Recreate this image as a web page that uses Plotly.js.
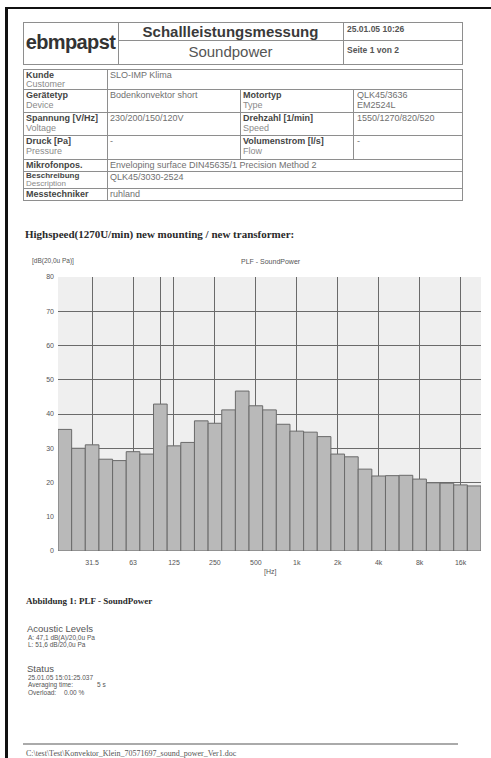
<!DOCTYPE html>
<html>
<head>
<meta charset="utf-8">
<script src="https://cdn.plot.ly/plotly-3.0.1.min.js"></script>
<style>
  html, body { margin:0; padding:0; background:#fff; }
  body { width:491px; height:758px; position:relative; overflow:hidden; font-family:"Liberation Sans", Arial, sans-serif; }
  .abs { position:absolute; white-space:nowrap; }
  .ln { position:absolute; background:#8e8e8e; }
  .lab { font-size:9px; line-height:10px; font-weight:bold; color:#444; }
  .sub { font-size:9px; line-height:10px; color:#8a8a8a; }
  .val { font-size:9px; line-height:10px; color:#707070; }
  .serifb { font-family:"Liberation Serif", "Times New Roman", serif; font-weight:bold; color:#2a2a2a; }
  .small { font-size:6.5px; line-height:7px; color:#555; }
  .mid { font-size:9.5px; color:#555; }
</style>
</head>
<body>
<!-- page frame (scan border) -->
<div class="abs" style="left:5px;top:7px;width:486px;height:2px;background:#111;"></div>
<div class="abs" style="left:5px;top:7px;width:2.5px;height:751px;background:#111;"></div>

<!-- title box -->
<div class="ln" style="left:23px;top:22px;width:439px;height:1px;"></div>
<div class="ln" style="left:23px;top:64px;width:440px;height:1px;"></div>
<div class="ln" style="left:23px;top:22px;width:1px;height:42px;"></div>
<div class="ln" style="left:462px;top:22px;width:1px;height:42px;"></div>
<div class="ln" style="left:118px;top:22px;width:1px;height:42px;"></div>
<div class="ln" style="left:343px;top:22px;width:1px;height:42px;"></div>
<div class="ln" style="left:118px;top:40px;width:344px;height:1px;"></div>
<div class="abs" style="left:23px;top:30px;width:95px;text-align:center;font-size:20px;line-height:24px;font-weight:bold;color:#333;letter-spacing:-0.6px;">ebmpapst</div>
<div class="abs" style="left:118px;top:23px;width:225px;text-align:center;font-size:15px;line-height:17px;font-weight:bold;color:#3a3a3a;">Schallleistungsmessung</div>
<div class="abs" style="left:118px;top:43px;width:225px;text-align:center;font-size:15px;line-height:17px;color:#555;">Soundpower</div>
<div class="abs" style="left:347px;top:24px;font-size:8.5px;line-height:10px;font-weight:bold;color:#555;">25.01.05 10:26</div>
<div class="abs" style="left:347px;top:45px;font-size:8.5px;line-height:10px;font-weight:bold;color:#555;">Seite 1 von 2</div>

<!-- info table -->
<div class="ln" style="left:23px;top:69px;width:440px;height:1px;"></div>
<div class="ln" style="left:23px;top:89px;width:440px;height:1px;"></div>
<div class="ln" style="left:23px;top:112px;width:440px;height:1px;"></div>
<div class="ln" style="left:23px;top:135px;width:440px;height:1px;"></div>
<div class="ln" style="left:23px;top:159px;width:440px;height:1px;"></div>
<div class="ln" style="left:23px;top:171px;width:440px;height:1px;"></div>
<div class="ln" style="left:23px;top:188px;width:440px;height:1px;"></div>
<div class="ln" style="left:23px;top:200px;width:440px;height:1px;"></div>
<div class="ln" style="left:23px;top:69px;width:1px;height:131px;"></div>
<div class="ln" style="left:462px;top:69px;width:1px;height:131px;"></div>
<div class="ln" style="left:107px;top:69px;width:1px;height:131px;"></div>
<div class="ln" style="left:240px;top:89px;width:1px;height:70px;"></div>
<div class="ln" style="left:353px;top:89px;width:1px;height:70px;"></div>

<div class="abs lab" style="left:26px;top:70px;">Kunde</div>
<div class="abs sub" style="left:26px;top:79px;">Customer</div>
<div class="abs val" style="left:110px;top:70px;">SLO-IMP Klima</div>

<div class="abs lab" style="left:26px;top:90px;">Gerätetyp</div>
<div class="abs sub" style="left:26px;top:100px;">Device</div>
<div class="abs val" style="left:110px;top:90px;">Bodenkonvektor short</div>
<div class="abs lab" style="left:243px;top:90px;">Motortyp</div>
<div class="abs sub" style="left:243px;top:100px;">Type</div>
<div class="abs val" style="left:357px;top:90px;">QLK45/3636</div>
<div class="abs val" style="left:357px;top:100px;">EM2524L</div>

<div class="abs lab" style="left:26px;top:113px;">Spannung [V/Hz]</div>
<div class="abs sub" style="left:26px;top:123px;">Voltage</div>
<div class="abs val" style="left:110px;top:113px;">230/200/150/120V</div>
<div class="abs lab" style="left:243px;top:113px;">Drehzahl [1/min]</div>
<div class="abs sub" style="left:243px;top:123px;">Speed</div>
<div class="abs val" style="left:357px;top:113px;">1550/1270/820/520</div>

<div class="abs lab" style="left:26px;top:136px;">Druck [Pa]</div>
<div class="abs sub" style="left:26px;top:146px;">Pressure</div>
<div class="abs val" style="left:110px;top:136px;">-</div>
<div class="abs lab" style="left:243px;top:136px;">Volumenstrom [l/s]</div>
<div class="abs sub" style="left:243px;top:146px;">Flow</div>
<div class="abs val" style="left:357px;top:136px;">-</div>

<div class="abs lab" style="left:26px;top:160px;">Mikrofonpos.</div>
<div class="abs val" style="left:110px;top:160px;">Enveloping surface DIN45635/1 Precision Method 2</div>

<div class="abs lab" style="left:26px;top:171.5px;font-size:8px;line-height:8px;">Beschreibung</div>
<div class="abs sub" style="left:26px;top:180px;font-size:8px;line-height:8px;">Description</div>
<div class="abs val" style="left:110px;top:172px;">QLK45/3030-2524</div>

<div class="abs lab" style="left:26px;top:189px;">Messtechniker</div>
<div class="abs val" style="left:110px;top:189px;">ruhland</div>

<!-- chart heading -->
<div class="abs serifb" style="left:25px;top:228px;font-size:11px;line-height:13px;">Highspeed(1270U/min) new mounting / new transformer:</div>

<!-- chart -->
<div id="chart" class="abs" style="left:0px;top:250px;width:491px;height:335px;"></div>

<!-- below chart -->
<div class="abs serifb" style="left:26px;top:596px;font-size:9px;line-height:10px;">Abbildung 1: PLF - SoundPower</div>
<div class="abs mid" style="left:27px;top:623px;line-height:11px;">Acoustic Levels</div>
<div class="abs small" style="left:28px;top:634px;">A: 47,1 dB(A)/20,0u Pa</div>
<div class="abs small" style="left:28px;top:641px;">L: 51,6 dB/20,0u Pa</div>
<div class="abs mid" style="left:27px;top:663px;line-height:11px;">Status</div>
<div class="abs small" style="left:28px;top:674px;">25.01.05 15:01:25.037</div>
<div class="abs small" style="left:28px;top:681px;">Averaging time:</div>
<div class="abs small" style="left:97px;top:681px;">5 s</div>
<div class="abs small" style="left:28px;top:689px;">Overload:</div>
<div class="abs small" style="left:64px;top:689px;">0.00 %</div>

<div class="abs" style="left:23px;top:743px;width:435px;height:1.5px;background:#aaa;"></div>
<div class="abs" style="left:26px;top:749px;font-family:'Liberation Serif',serif;font-size:8px;line-height:9px;color:#555;">C:\test\Test\Konvektor_Klein_70571697_sound_power_Ver1.doc</div>

<script>
// 1/3-octave band centre frequencies (category labels)
const bandLabels = ['20','25','31.5','40','50','63','80','100','125','160','200','250','315','400','500','630','800','1k','1.25k','1.6k','2k','2.5k','3.15k','4k','5k','6.3k','8k','10k','12.5k','16k','20k'];
// sound power level per band [dB(20,0u Pa)]
const levels = [35.5,30.0,31.0,26.8,26.4,29.0,28.3,42.9,30.7,31.7,38.0,37.3,41.2,46.7,42.4,41.2,37.0,35.0,34.7,33.4,28.3,27.5,23.9,21.9,22.0,22.1,21.0,19.9,19.8,19.3,19.0];
// x ticks / grid positions and their labels
const xTickVals = ['31.5','63','100','125','250','500','1k','2k','4k','8k','16k'];
const xTickText = ['31.5','63','','125','250','500','1k','2k','4k','8k','16k'];
// y ticks
const yTickVals = [0,10,20,30,40,50,60,70,80];

const trace = {
  type: 'bar',
  x: bandLabels,
  y: levels,
  marker: { color: '#b9b9b9', line: { color: '#6a6a6a', width: 1 } },
  hoverinfo: 'x+y'
};

const layout = {
  width: 491, height: 335,
  margin: { l: 58, r: 10, t: 27, b: 34 },
  paper_bgcolor: 'rgba(0,0,0,0)',
  plot_bgcolor: '#efefef',
  bargap: 0,
  showlegend: false,
  font: { family: 'Liberation Sans, Arial, sans-serif', size: 7, color: '#555' },
  xaxis: {
    type: 'category',
    categoryorder: 'array',
    categoryarray: bandLabels,
    tickmode: 'array',
    tickvals: xTickVals,
    ticktext: xTickText,
    showgrid: true,
    gridcolor: '#6a6a6a',
    gridwidth: 1,
    ticks: '',
    ticklabelstandoff: 6,
    zeroline: false,
    showline: false,
    tickfont: { size: 7, color: '#555' }
  },
  yaxis: {
    range: [0, 80],
    tickmode: 'array',
    tickvals: yTickVals,
    showgrid: true,
    gridcolor: '#6a6a6a',
    gridwidth: 1,
    zeroline: false,
    showline: false,
    ticks: '',
    ticklabelstandoff: 3,
    tickfont: { size: 7, color: '#555' }
  },
  annotations: [
    { text: '[dB(20,0u Pa)]', xref: 'paper', yref: 'paper', x: (30 - 58) / 423, y: (551 - 261) / 274,
      xanchor: 'left', yanchor: 'middle', showarrow: false, font: { size: 6.5, color: '#555' } },
    { text: 'PLF - SoundPower', xref: 'paper', yref: 'paper', x: (271 - 58) / 423, y: (551 - 261) / 274,
      xanchor: 'center', yanchor: 'middle', showarrow: false, font: { size: 7, color: '#555' } },
    { text: '[Hz]', xref: 'paper', yref: 'paper', x: (270 - 58) / 423, y: (551 - 572) / 274,
      xanchor: 'center', yanchor: 'middle', showarrow: false, font: { size: 7, color: '#555' } }
  ]
};

Plotly.newPlot('chart', [trace], layout, { displayModeBar: false, staticPlot: true });
</script>
</body>
</html>
